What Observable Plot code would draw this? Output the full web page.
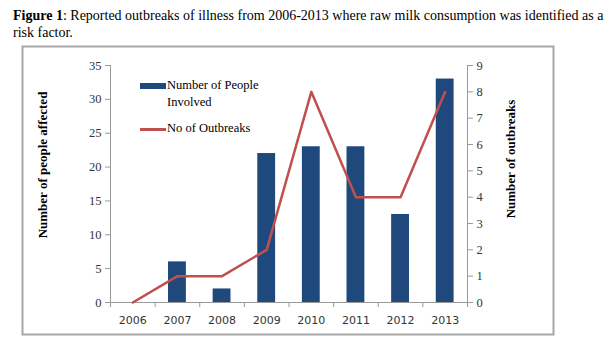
<!DOCTYPE html>
<html>
<head>
<meta charset="utf-8">
<script src="https://cdn.jsdelivr.net/npm/d3@7"></script>
<script src="https://cdn.jsdelivr.net/npm/@observablehq/plot@0.6"></script>
<style>
  body { margin: 0; background: #fff; width: 611px; height: 352px; position: relative; overflow: hidden; }
  #title { position: absolute; left: 13px; top: 7px; width: 598px; font: 14px "Liberation Serif", "Times New Roman", serif; line-height: 17px; color: #000; }
  #chart { position: absolute; left: 0; top: 45px; }
  .leg { position: absolute; font: 12.5px "Liberation Serif", "Times New Roman", serif; color: #000; line-height: 17px; }
</style>
</head>
<body>
<div id="title"><b>Figure 1</b>: Reported outbreaks of illness from 2006-2013 where raw milk consumption was identified as a risk factor.</div>
<div id="chart"></div>
<div class="leg" style="left:140px;top:83px;width:26px;height:6px;background:#1F497D"></div>
<div class="leg" style="left:167px;top:77px;">Number of People<br>Involved</div>
<div class="leg" style="left:140px;top:128px;width:26px;height:2.5px;background:#C0504D"></div>
<div class="leg" style="left:167px;top:120px;">No of Outbreaks</div>
<script>
const years = [2006, 2007, 2008, 2009, 2010, 2011, 2012, 2013];
const people = [0, 6, 2, 22, 23, 23, 13, 33];
const outbreaks = [0, 1, 1, 2, 8, 4, 4, 8];
const leftTicks = [0, 5, 10, 15, 20, 25, 30, 35];
const rightTicks = [0, 1, 2, 3, 4, 5, 6, 7, 8, 9];
const leftMax = 35, rightMax = 9;
const ratio = leftMax / rightMax;

const data = years.map((y, i) => ({year: y, people: people[i], outbreaks: outbreaks[i]}));
const bounds = [years[0] - 0.5, ...years.map(y => y + 0.5)];
const serif = '"Liberation Serif", "Times New Roman", serif';

const chart = Plot.plot({
  width: 611,
  height: 307,
  marginLeft: 110,
  marginRight: 144,
  marginTop: 20,
  marginBottom: 50,
  style: {background: "transparent", overflow: "visible"},
  x: {type: "linear", domain: [bounds[0], bounds[bounds.length - 1]]},
  y: {domain: [0, leftMax]},
  marks: [
    Plot.frame({insetLeft: -88, insetRight: -86, insetTop: -19, insetBottom: -32, stroke: "#a6a6a6", strokeWidth: 2}),
    Plot.rectY(data, {x1: d => d.year - 0.2, x2: d => d.year + 0.2, y: "people", fill: "#1F497D"}),
    Plot.ruleY([0], {stroke: "#9a9a9a", strokeWidth: 1}),
    Plot.ruleX([bounds[0]], {y1: 0, y2: leftMax, stroke: "#9a9a9a", strokeWidth: 1}),
    Plot.ruleX([bounds[bounds.length - 1]], {y1: 0, y2: leftMax, stroke: "#9a9a9a", strokeWidth: 1}),
    Plot.line(data, {x: "year", y: d => d.outbreaks * ratio, stroke: "#C0504D", strokeWidth: 2.5}),
    Plot.axisY({anchor: "left", ticks: leftTicks, tickSize: 5, tickPadding: 4, stroke: "#9a9a9a", fontSize: 12.5, fontFamily: serif, fill: "#333", label: null}),
    Plot.axisY({anchor: "right", ticks: rightTicks.map(k => k * ratio), tickFormat: d => String(Math.round(d / ratio)), tickSize: 5, tickPadding: 4, stroke: "#9a9a9a", fontSize: 12.5, fontFamily: serif, fill: "#333", label: null}),
    Plot.axisX({ticks: bounds, tickSize: 5, tickFormat: () => "", stroke: "#9a9a9a", label: null}),
    Plot.axisX({ticks: years, tickSize: 0, tickPadding: 14, tickFormat: d => String(d), fontSize: 11, fontFamily: '"DejaVu Sans", sans-serif', fill: "#333", label: null}),
    Plot.text(["Number of people affected"], {frameAnchor: "left", textAnchor: "middle", dx: -68, dy: -19, rotate: -90, fontSize: 13, fontWeight: "bold", fontFamily: serif, fill: "#000"}),
    Plot.text(["Number of outbreaks"], {frameAnchor: "right", textAnchor: "middle", dx: 43, dy: -25, rotate: -90, fontSize: 13, fontWeight: "bold", fontFamily: serif, fill: "#000"})
  ]
});
document.getElementById("chart").appendChild(chart);
</script>
</body>
</html>
